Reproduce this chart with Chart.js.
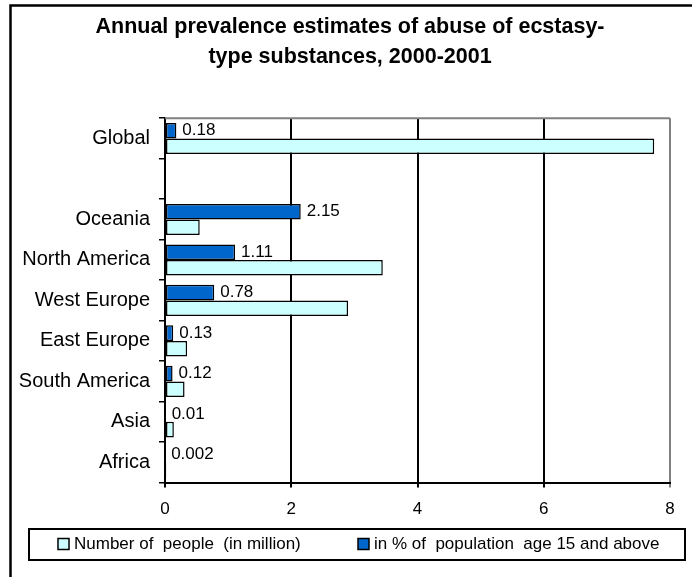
<!DOCTYPE html>
<html>
<head>
<meta charset="utf-8">
<script src="https://cdn.jsdelivr.net/npm/chart.js@4"></script>
<style>
html, body { margin: 0; padding: 0; background: #fff; }
canvas { display: block; }
</style>
</head>
<body>
<canvas id="chart" width="692" height="577"></canvas>
<script>
var categories = ["Global", "", "Oceania", "North America", "West Europe", "East Europe", "South America", "Asia", "Africa"];
var peopleMillion = [7.75, null, 0.55, 3.45, 2.9, 0.35, 0.31, 0.14, 0.02];
var percentPop = [0.18, null, 2.15, 1.11, 0.78, 0.13, 0.12, 0.01, 0.002];
var xTicks = [0, 2, 4, 6, 8];
var seriesNames = ["Number of  people  (in million)", "in % of  population  age 15 and above"];

var FONT = "'Liberation Sans', Arial, sans-serif";

// frame, plot border, value labels and boxed legend
var decorations = {
  id: "decorations",
  beforeDraw: function (chart) {
    var ctx = chart.ctx;
    ctx.save();
    ctx.fillStyle = "#fff";
    ctx.fillRect(0, 0, chart.width, chart.height);
    ctx.strokeStyle = "#000";
    ctx.lineWidth = 2.5;
    ctx.strokeRect(10.5, 5.5, chart.width + 20, chart.height + 20);
    ctx.restore();
  },
  beforeDatasetsDraw: function (chart) {
    var a = chart.chartArea, ctx = chart.ctx;
    ctx.save();
    ctx.strokeStyle = "#808080";
    ctx.lineWidth = 2;
    ctx.beginPath();
    ctx.moveTo(a.left, a.top);
    ctx.lineTo(a.right, a.top);
    ctx.stroke();
    ctx.restore();
  },
  afterDatasetsDraw: function (chart) {
    var ctx = chart.ctx;
    var meta = chart.getDatasetMeta(0);
    ctx.save();
    ctx.font = "17px " + FONT;
    ctx.fillStyle = "#000";
    ctx.textBaseline = "middle";
    ctx.textAlign = "left";
    meta.data.forEach(function (bar, i) {
      var v = percentPop[i];
      if (v === null) return;
      ctx.fillText(String(v), bar.x + 6, bar.y);
    });
    ctx.restore();
  },
  afterDraw: function (chart) {
    var ctx = chart.ctx;
    ctx.save();
    ctx.strokeStyle = "#000";
    ctx.lineWidth = 2;
    ctx.strokeRect(29, 529, 656, 31);
    var ds = [chart.data.datasets[1], chart.data.datasets[0]];
    var xs = [58, 358];
    ctx.font = "17px " + FONT;
    ctx.textBaseline = "middle";
    ctx.textAlign = "left";
    ds.forEach(function (d, i) {
      ctx.fillStyle = d.backgroundColor;
      ctx.fillRect(xs[i], 538.5, 11, 11);
      ctx.lineWidth = 1.5;
      ctx.strokeStyle = "#000";
      ctx.strokeRect(xs[i], 538.5, 11, 11);
      ctx.fillStyle = "#000";
      ctx.fillText(d.label, xs[i] + 16, 544.5);
    });
    ctx.restore();
  }
};

new Chart(document.getElementById("chart").getContext("2d"), {
  type: "bar",
  data: {
    labels: categories,
    datasets: [
      {
        label: seriesNames[1],
        data: percentPop,
        backgroundColor: "#0066CC",
        borderColor: "#000",
        borderWidth: 1.5,
        borderSkipped: false
      },
      {
        label: seriesNames[0],
        data: peopleMillion,
        backgroundColor: "#CCFFFF",
        borderColor: "#000",
        borderWidth: 1.5,
        borderSkipped: false
      }
    ]
  },
  options: {
    indexAxis: "y",
    responsive: false,
    animation: false,
    devicePixelRatio: 1,
    barPercentage: 1,
    categoryPercentage: 0.767,
    layout: { padding: { left: 8, right: 0, top: 0, bottom: 45 } },
    plugins: {
      legend: { display: false },
      tooltip: { enabled: false },
      title: {
        display: true,
        text: ["Annual prevalence estimates of abuse of ecstasy-", "type substances, 2000-2001"],
        color: "#000",
        font: { family: FONT, size: 21.5, weight: "bold", lineHeight: 1.4 },
        padding: { top: 12, bottom: 46 }
      }
    },
    scales: {
      x: {
        min: xTicks[0],
        max: xTicks[xTicks.length - 1],
        afterBuildTicks: function (s) {
          s.ticks = xTicks.map(function (v) { return { value: v }; });
        },
        ticks: { color: "#000", font: { family: FONT, size: 17 }, padding: 12 },
        grid: {
          color: function (c) { return c.tick && c.tick.value === 8 ? "#808080" : "#000"; },
          lineWidth: 2,
          tickLength: 5
        },
        border: { color: "#000", width: 2 }
      },
      y: {
        grid: { drawOnChartArea: false, offset: true, tickLength: 6, color: "#000", lineWidth: 1.5 },
        border: { color: "#000", width: 2 },
        ticks: { color: "#000", font: { family: FONT, size: 20 }, padding: 9 },
        afterFit: function (s) { s.width = 157; }
      },
      y2: {
        type: "linear",
        position: "right",
        grid: { display: false },
        border: { display: false },
        ticks: { display: false },
        afterFit: function (s) { s.width = 22; }
      }
    }
  },
  plugins: [decorations]
});
</script>
</body>
</html>
